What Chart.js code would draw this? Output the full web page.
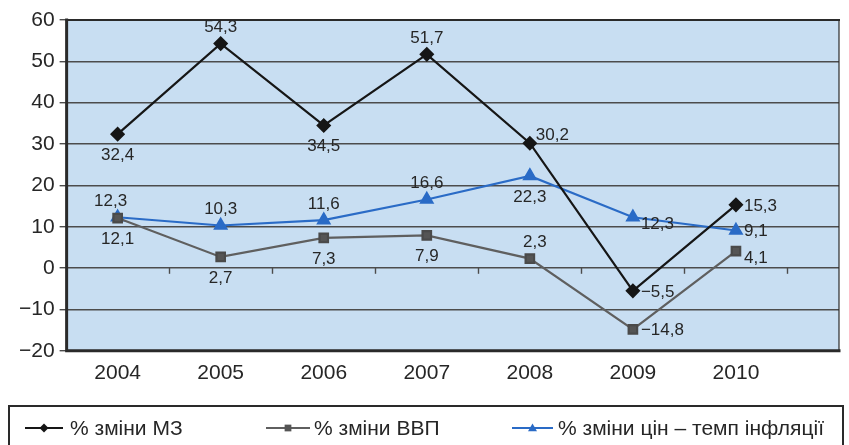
<!DOCTYPE html>
<html>
<head>
<meta charset="utf-8">
<script src="https://cdn.jsdelivr.net/npm/chart.js@4/dist/chart.umd.min.js"></script>
<style>
  html, body { margin: 0; padding: 0; background: #ffffff; }
  #wrap { width: 849px; height: 445px; }
</style>
</head>
<body>
<div id="wrap"><canvas id="c" width="849" height="445"></canvas></div>
<script>
// Years on the horizontal axis
const years = ['2004', '2005', '2006', '2007', '2008', '2009', '2010'];

// Annual percentage changes
const moneySupply = [32.4, 54.3, 34.5, 51.7, 30.2, -5.5, 15.3];   // % зміни МЗ
const gdp         = [12.1, 2.7, 7.3, 7.9, 2.3, -14.8, 4.1];        // % зміни ВВП
const inflation   = [12.3, 10.3, 11.6, 16.6, 22.3, 12.3, 9.1];     // % зміни цін – темп інфляції

// Vertical axis range and step
const yTicks = { min: -20, max: 60, step: 10 };

// Series names
const seriesNames = ['% зміни МЗ', '% зміни ВВП', '% зміни цін – темп інфляції'];

// Where each value label sits relative to its point
const moneyLabelPos = ['below', 'above', 'below', 'above', 'rightUp', 'right', 'right'];
const gdpLabelPos   = ['below', 'below', 'below', 'below', 'aboveRight', 'right', 'rightDown'];
const inflLabelPos  = ['aboveLeft', 'above', 'above', 'above', 'below', 'rightDown', 'right'];

const FONT = '"Liberation Sans", Arial, Helvetica, sans-serif';
Chart.defaults.font.family = FONT;

const toPoints = vals => vals.map((v, i) => ({ x: i, y: v }));
const fmt = v => String(v).replace('.', ',').replace('-', '\u2212');

const COLORS = {
  money: '#161616',
  gdp: '#5f5f5f',
  infl: '#2a6bc6',
  plotBg: '#c8def2',
  grid: '#4c4c4c',
  frame: '#2a2a2a',
  text: '#262626'
};

// Plot background and page fill
const backgroundPlugin = {
  id: 'plotBackground',
  beforeDraw(chart) {
    const { ctx, chartArea: a } = chart;
    ctx.save();
    ctx.fillStyle = '#ffffff';
    ctx.fillRect(0, 0, chart.width, chart.height);
    ctx.fillStyle = COLORS.plotBg;
    ctx.fillRect(a.left, a.top, a.right - a.left, a.bottom - a.top);
    ctx.restore();
  }
};

// Frame around the plot and small tick marks along the zero line
const framePlugin = {
  id: 'plotFrame',
  beforeDatasetsDraw(chart) {
    const { ctx, chartArea: a, scales } = chart;
    ctx.save();
    ctx.strokeStyle = COLORS.frame;
    ctx.lineCap = 'square';
    // right side, thin
    ctx.lineWidth = 1.2;
    ctx.beginPath();
    ctx.moveTo(a.right, a.top);
    ctx.lineTo(a.right, a.bottom);
    ctx.stroke();
    // top
    ctx.lineWidth = 2;
    ctx.beginPath();
    ctx.moveTo(a.left, a.top);
    ctx.lineTo(a.right, a.top);
    ctx.stroke();
    // left and bottom, heavy
    ctx.lineWidth = 3;
    ctx.beginPath();
    ctx.moveTo(a.left, a.top);
    ctx.lineTo(a.left, a.bottom);
    ctx.lineTo(a.right, a.bottom);
    ctx.stroke();
    // zero-line ticks between categories
    const y0 = scales.y.getPixelForValue(0);
    ctx.lineWidth = 1.4;
    ctx.strokeStyle = COLORS.grid;
    for (let k = 0; k < years.length; k++) {
      const x = Math.round(scales.x.getPixelForValue(k + 0.5)) + 0.5;
      ctx.beginPath();
      ctx.moveTo(x, y0);
      ctx.lineTo(x, y0 + 5);
      ctx.stroke();
    }
    ctx.restore();
  }
};

// Value labels next to each point
const LABEL_OFFSETS = {
  above:      { dx: 0,  dy: -16, align: 'center' },
  aboveLeft:  { dx: -7, dy: -16, align: 'center' },
  aboveRight: { dx: 5,  dy: -16, align: 'center' },
  below:      { dx: 0,  dy: 21,  align: 'center' },
  right:      { dx: 8,  dy: 1,   align: 'left' },
  rightUp:    { dx: 6,  dy: -8,  align: 'left' },
  rightDown:  { dx: 8,  dy: 7,   align: 'left' }
};
const valueLabelPlugin = {
  id: 'valueLabels',
  afterDatasetsDraw(chart) {
    const { ctx } = chart;
    ctx.save();
    ctx.font = '17px ' + FONT;
    ctx.fillStyle = COLORS.text;
    ctx.textBaseline = 'middle';
    chart.data.datasets.forEach((ds, di) => {
      const meta = chart.getDatasetMeta(di);
      meta.data.forEach((pt, i) => {
        const o = LABEL_OFFSETS[ds.labelPos[i]];
        ctx.textAlign = o.align;
        ctx.fillText(fmt(ds.data[i].y), pt.x + o.dx, pt.y + o.dy);
      });
    });
    ctx.restore();
  }
};

// Boxed legend under the chart
function drawMarker(ctx, style, x, y, r, color) {
  ctx.fillStyle = color;
  ctx.beginPath();
  if (style === 'rectRot') {
    ctx.moveTo(x, y - r); ctx.lineTo(x + r, y); ctx.lineTo(x, y + r); ctx.lineTo(x - r, y);
  } else if (style === 'rect') {
    ctx.rect(x - r * 0.75, y - r * 0.75, r * 1.5, r * 1.5);
  } else {
    ctx.moveTo(x, y - r); ctx.lineTo(x + r, y + r * 0.7); ctx.lineTo(x - r, y + r * 0.7);
  }
  ctx.closePath();
  ctx.fill();
}
const legendPlugin = {
  id: 'boxLegend',
  afterDraw(chart) {
    const { ctx } = chart;
    const box = { left: 9, top: 406, right: 843 };
    const items = [
      { x0: 25,  x1: 63,  text: 70 },
      { x0: 266, x1: 310, text: 314 },
      { x0: 512, x1: 553, text: 558 }
    ];
    const cy = 428;
    ctx.save();
    ctx.strokeStyle = COLORS.frame;
    ctx.lineWidth = 2;
    ctx.strokeRect(box.left, box.top, box.right - box.left, 80);
    ctx.font = '21px ' + FONT;
    ctx.textBaseline = 'middle';
    ctx.textAlign = 'left';
    chart.data.datasets.forEach((ds, i) => {
      const it = items[i];
      ctx.strokeStyle = ds.borderColor;
      ctx.lineWidth = 2;
      ctx.beginPath();
      ctx.moveTo(it.x0, cy);
      ctx.lineTo(it.x1, cy);
      ctx.stroke();
      drawMarker(ctx, ds.pointStyle, (it.x0 + it.x1) / 2, cy, 4.5, ds.pointBackgroundColor);
      ctx.fillStyle = COLORS.text;
      ctx.fillText(ds.label, it.text, cy + 1);
    });
    ctx.restore();
  }
};

new Chart(document.getElementById('c'), {
  type: 'line',
  data: {
    datasets: [
      {
        label: seriesNames[0],
        data: toPoints(moneySupply),
        labelPos: moneyLabelPos,
        borderColor: COLORS.money,
        backgroundColor: COLORS.money,
        pointBackgroundColor: COLORS.money,
        pointBorderColor: COLORS.money,
        pointStyle: 'rectRot',
        pointRadius: 6,
        borderWidth: 2.2,
        tension: 0
      },
      {
        label: seriesNames[1],
        data: toPoints(gdp),
        labelPos: gdpLabelPos,
        borderColor: COLORS.gdp,
        backgroundColor: COLORS.gdp,
        pointBackgroundColor: '#555555',
        pointBorderColor: '#4a4a4a',
        pointStyle: 'rect',
        pointRadius: 6,
        borderWidth: 2.2,
        tension: 0
      },
      {
        label: seriesNames[2],
        data: toPoints(inflation),
        labelPos: inflLabelPos,
        borderColor: COLORS.infl,
        backgroundColor: COLORS.infl,
        pointBackgroundColor: COLORS.infl,
        pointBorderColor: COLORS.infl,
        pointStyle: 'triangle',
        pointRadius: 6.5,
        borderWidth: 2.2,
        tension: 0
      }
    ]
  },
  options: {
    responsive: false,
    animation: false,
    layout: { padding: { left: 14, right: 8, top: 20, bottom: 49 } },
    plugins: {
      legend: { display: false },
      tooltip: { enabled: false }
    },
    scales: {
      x: {
        type: 'linear',
        min: -0.495,
        max: 7.0,
        grid: { display: false, drawTicks: false },
        border: { display: false },
        ticks: {
          stepSize: 1,
          includeBounds: false,
          autoSkip: false,
          maxRotation: 0,
          padding: 10,
          color: COLORS.text,
          font: { size: 21 },
          callback: v => (Number.isInteger(v) && years[v] !== undefined) ? years[v] : ''
        }
      },
      y: {
        min: yTicks.min,
        max: yTicks.max,
        border: { display: false },
        grid: {
          color: COLORS.grid,
          lineWidth: 1.4,
          drawTicks: true,
          tickLength: 7
        },
        ticks: {
          stepSize: yTicks.step,
          padding: 5,
          color: COLORS.text,
          font: { size: 21 },
          callback: v => fmt(v)
        }
      }
    }
  },
  plugins: [backgroundPlugin, framePlugin, valueLabelPlugin, legendPlugin]
});
</script>
</body>
</html>
